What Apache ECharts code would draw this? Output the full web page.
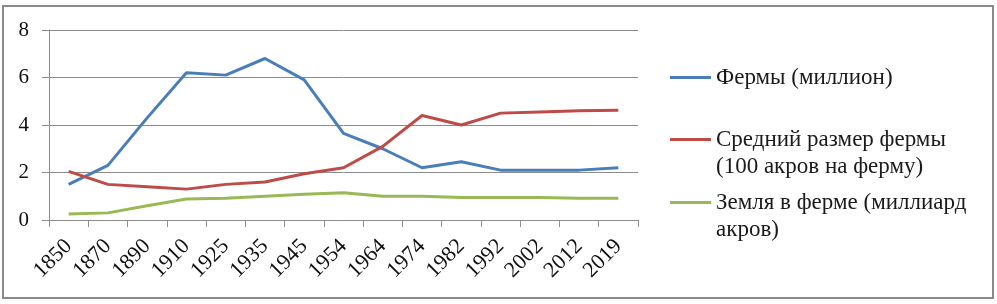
<!DOCTYPE html>
<html>
<head>
<meta charset="utf-8">
<script src="https://cdn.jsdelivr.net/npm/echarts@6/dist/echarts.min.js"></script>
<style>
    html, body { margin: 0; padding: 0; background: #fff; }
    #main { width: 997px; height: 304px; }
</style>
</head>
<body>
<div id="main"></div>
<script>
    // годы (категории)
    var years = ['1850', '1870', '1890', '1910', '1925', '1935', '1945', '1954',
                 '1964', '1974', '1982', '1992', '2002', '2012', '2019'];

    var farms    = [1.5, 2.3, 4.3, 6.2, 6.1, 6.8, 5.9, 3.65, 3.0, 2.2, 2.45, 2.1, 2.1, 2.1, 2.2];
    var avgSize  = [2.05, 1.5, 1.4, 1.3, 1.5, 1.6, 1.95, 2.2, 3.1, 4.4, 4.0, 4.5, 4.55, 4.6, 4.62];
    var land     = [0.25, 0.3, 0.6, 0.88, 0.92, 1.0, 1.08, 1.15, 1.0, 1.0, 0.95, 0.95, 0.95, 0.92, 0.92];

    var yTicks = [0, 2, 4, 6, 8];

    var names = [
        'Фермы (миллион)',
        'Средний размер фермы\n(100 акров на ферму)',
        'Земля в ферме (миллиард\nакров)'
    ];

    var serif = '"Liberation Serif", "DejaVu Serif", serif';
    var gray = '#8c8c8c';

    // одна легенда на серию, чтобы линия стояла у первой строки текста
    function legendOf(name, top, multi) {
        return {
            data: [name],
            left: 670,
            top: top,
            padding: 0,
            icon: 'rect',
            itemWidth: 41,
            itemHeight: 3,
            itemGap: 0,
            selectedMode: false,
            formatter: function (n) { return multi ? '\n' + n : n; },
            textStyle: {
                fontFamily: serif,
                fontSize: 23,
                lineHeight: 27,
                color: '#1a1a1a'
            }
        };
    }

    var chart = echarts.init(document.getElementById('main'));

    var option = {
        animation: false,
        grid: { left: 49, right: 359, top: 30, bottom: 84 },
        legend: [
            legendOf(names[0], 64, false),
            legendOf(names[1], 99, true),
            legendOf(names[2], 162, true)
        ],
        graphic: [{
            type: 'rect',
            shape: { x: 3, y: 6, width: 990, height: 292 },
            style: { fill: null, stroke: '#8a8a8a', lineWidth: 2 },
            silent: true
        }],
        xAxis: {
            type: 'category',
            data: years,
            boundaryGap: true,
            axisLine: { lineStyle: { color: gray, width: 1 } },
            axisTick: { show: true, length: 7, lineStyle: { color: gray } },
            axisLabel: {
                rotate: 45,
                margin: 23,
                interval: 0,
                fontFamily: serif,
                fontSize: 22,
                color: '#111'
            }
        },
        yAxis: {
            type: 'value',
            min: yTicks[0],
            max: yTicks[yTicks.length - 1],
            interval: 2,
            axisLine: { show: true, lineStyle: { color: gray, width: 1 } },
            axisTick: { show: true, length: 7, lineStyle: { color: gray } },
            splitLine: { lineStyle: { color: gray, width: 1 } },
            axisLabel: {
                margin: 20,
                fontFamily: serif,
                fontSize: 21,
                color: '#111'
            }
        },
        series: [{
            name: names[0],
            type: 'line',
            data: farms,
            symbol: 'none',
            color: '#4a7ebb',
            lineStyle: { width: 3 }
        }, {
            name: names[1],
            type: 'line',
            data: avgSize,
            symbol: 'none',
            color: '#be4b48',
            lineStyle: { width: 3 }
        }, {
            name: names[2],
            type: 'line',
            data: land,
            symbol: 'none',
            color: '#98b954',
            lineStyle: { width: 3 }
        }]
    };
    chart.setOption(option);
</script>
</body>
</html>
